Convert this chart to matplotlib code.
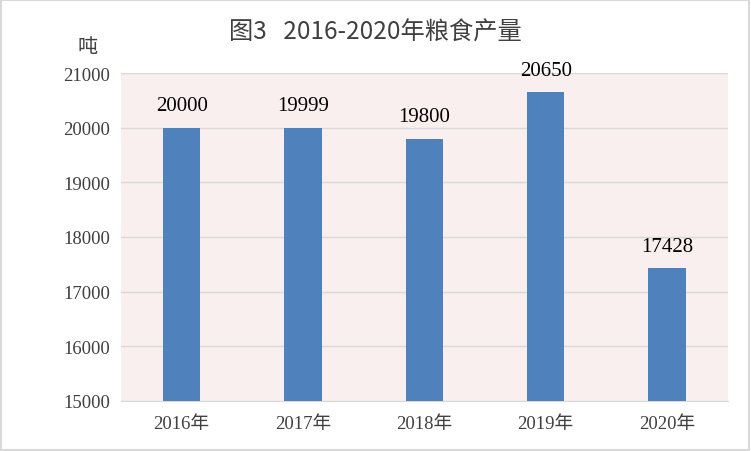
import matplotlib.pyplot as plt
from matplotlib.patches import Rectangle

# data
years = ["2016年", "2017年", "2018年", "2019年", "2020年"]
output = [20000, 19999, 19800, 20650, 17428]
yticks = [15000, 16000, 17000, 18000, 19000, 20000, 21000]

serif = ["Liberation Serif", "Noto Sans CJK SC"]
sans = ["Noto Sans CJK SC", "DejaVu Sans"]

fig = plt.figure(figsize=(7.51, 4.52), dpi=100)
ax = fig.add_axes([0.161, 0.111, 0.808, 0.725])
ax.set_facecolor("#F9EFEE")

x = range(len(years))
bars = ax.bar(x, output, width=0.31, color="#4F81BD", zorder=3)

ax.set_ylim(15000, 21000)
ax.set_xlim(-0.5, len(years) - 0.5)
ax.set_yticks(yticks)
ax.set_yticklabels([str(t) for t in yticks], family=serif, fontsize=13.5, color="#404040")
ax.set_xticks(list(x))
ax.set_xticklabels(years, family=serif, fontsize=13.5, color="#404040")
ax.tick_params(length=0, pad=8)
ax.tick_params(axis="x", pad=10)
ax.grid(axis="y", color="#D9D9D9", linewidth=1, zorder=0)
for s in ["top", "right", "left"]:
    ax.spines[s].set_visible(False)
ax.spines["bottom"].set_color("#D9D9D9")

# value labels
for xi, v in zip(x, output):
    ax.annotate(str(v), (xi, v), xytext=(0, 9), textcoords="offset points",
                ha="center", va="bottom", family=serif, fontsize=15, color="#000000")

fig.text(0.5, 0.927, "图3   2016-2020年粮食产量", ha="center", va="center",
         family=sans, fontsize=17.5, color="#404040")
fig.text(0.117, 0.893, "吨", ha="center", va="center", family=serif,
         fontsize=14.5, color="#404040")

# chart border
fig.patches.append(Rectangle((0.001, 0.003), 0.996, 0.994, transform=fig.transFigure,
                             fill=False, edgecolor="#D9D9D9", linewidth=1.5))

fig.savefig("out.png", dpi=100)
